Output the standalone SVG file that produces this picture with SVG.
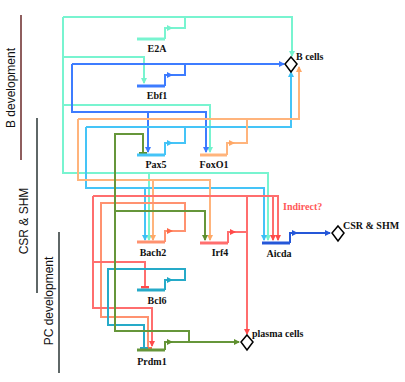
<svg xmlns="http://www.w3.org/2000/svg" width="405" height="382" viewBox="0 0 405 382">
<style>
.l{fill:none;stroke-width:2;stroke-linejoin:miter}
.bar{fill:none;stroke-width:3}
.g{font-family:"Liberation Serif",serif;font-weight:bold;font-size:10px;fill:#111;text-anchor:middle}
.o{font-family:"Liberation Serif",serif;font-weight:bold;font-size:10px;fill:#111}
.side{font-family:"Liberation Sans",Arial,sans-serif;font-size:12px;fill:#111;text-anchor:middle}
.dia{fill:#fff;stroke:#000;stroke-width:1.5}
.cA{stroke:#78f4d0}.cB{stroke:#3d7cff}.cP{stroke:#45c4f7}.cF{stroke:#ffb47c}
.cH{stroke:#ff9270}.cI{stroke:#ff6e6e}.cD{stroke:#2557d8}.cL{stroke:#26aac8}.cM{stroke:#66963a}
</style>
<defs>
<marker id="aA" viewBox="0 0 6 6" refX="5" refY="3" markerWidth="6" markerHeight="6" markerUnits="userSpaceOnUse" orient="auto"><path d="M0,0L6,3L0,6z" fill="#74f2cc"/></marker>
<marker id="aB" viewBox="0 0 6 6" refX="5" refY="3" markerWidth="6" markerHeight="6" markerUnits="userSpaceOnUse" orient="auto"><path d="M0,0L6,3L0,6z" fill="#3a78ff"/></marker>
<marker id="aP" viewBox="0 0 6 6" refX="5" refY="3" markerWidth="6" markerHeight="6" markerUnits="userSpaceOnUse" orient="auto"><path d="M0,0L6,3L0,6z" fill="#3cc0f5"/></marker>
<marker id="aF" viewBox="0 0 6 6" refX="5" refY="3" markerWidth="6" markerHeight="6" markerUnits="userSpaceOnUse" orient="auto"><path d="M0,0L6,3L0,6z" fill="#ffa866"/></marker>
<marker id="aH" viewBox="0 0 6 6" refX="5" refY="3" markerWidth="6" markerHeight="6" markerUnits="userSpaceOnUse" orient="auto"><path d="M0,0L6,3L0,6z" fill="#ff6a4a"/></marker>
<marker id="aI" viewBox="0 0 6 6" refX="5" refY="3" markerWidth="6" markerHeight="6" markerUnits="userSpaceOnUse" orient="auto"><path d="M0,0L6,3L0,6z" fill="#ff4a4a"/></marker>
<marker id="aD" viewBox="0 0 6 6" refX="5" refY="3" markerWidth="6" markerHeight="6" markerUnits="userSpaceOnUse" orient="auto"><path d="M0,0L6,3L0,6z" fill="#2557d8"/></marker>
<marker id="aL" viewBox="0 0 6 6" refX="5" refY="3" markerWidth="6" markerHeight="6" markerUnits="userSpaceOnUse" orient="auto"><path d="M0,0L6,3L0,6z" fill="#1fa8c6"/></marker>
<marker id="aM" viewBox="0 0 6 6" refX="5" refY="3" markerWidth="6" markerHeight="6" markerUnits="userSpaceOnUse" orient="auto"><path d="M0,0L6,3L0,6z" fill="#5e8f2e"/></marker>
<marker id="tH" viewBox="0 0 3 8" refX="1.5" refY="4" markerWidth="3" markerHeight="8" markerUnits="userSpaceOnUse" orient="auto"><rect width="3" height="8" fill="#ff6a4a"/></marker>
<marker id="tI" viewBox="0 0 3 8" refX="1.5" refY="4" markerWidth="3" markerHeight="8" markerUnits="userSpaceOnUse" orient="auto"><rect width="3" height="8" fill="#ff4a4a"/></marker>
<marker id="tL" viewBox="0 0 3 8" refX="1.5" refY="4" markerWidth="3" markerHeight="8" markerUnits="userSpaceOnUse" orient="auto"><rect width="3" height="8" fill="#1fa8c6"/></marker>
<marker id="tM" viewBox="0 0 3 8" refX="1.5" refY="4" markerWidth="3" markerHeight="8" markerUnits="userSpaceOnUse" orient="auto"><rect width="3" height="8" fill="#5e8f2e"/></marker>
</defs>
<rect width="405" height="382" fill="#fff"/>

<g id="stages">
<line x1="21" y1="15" x2="21" y2="160" stroke="#6a2828" stroke-width="1.5"/>
<text class="side" transform="translate(15,88) rotate(-90)">B development</text>
<line x1="37" y1="118" x2="37" y2="293" stroke="#2a3535" stroke-width="1.5"/>
<text class="side" transform="translate(28,221) rotate(-90)">CSR &amp; SHM</text>
<line x1="59" y1="232" x2="59" y2="373" stroke="#2a3535" stroke-width="1.5"/>
<text class="side" transform="translate(53,301) rotate(-90)">PC development</text>
</g>

<g id="connectors">
<!-- E2A -->
<path class="l cA" d="M172,28H185V17"/>
<path class="l cA" d="M63,17H292V56" marker-end="url(#aA)"/>
<path class="l cA" d="M63,17V173H268V240" marker-end="url(#aA)"/>
<path class="l cA" d="M63,57H144V83" marker-end="url(#aA)"/>
<path class="l cA" d="M63,105H210V152" marker-end="url(#aA)"/>
<path class="l cA" d="M149,173V240" marker-end="url(#aA)"/>
<!-- Ebf1 -->
<path class="l cB" d="M172,75H185V64"/>
<path class="l cB" d="M72,64H284" marker-end="url(#aB)"/>
<path class="l cB" d="M72,64V112H206V152" marker-end="url(#aB)"/>
<path class="l cB" d="M148,112V152" marker-end="url(#aB)"/>
<!-- Pax5 -->
<path class="l cP" d="M172,143H185V127"/>
<path class="l cP" d="M86,127H291V72" marker-end="url(#aP)"/>
<path class="l cP" d="M86,127V188H264V240" marker-end="url(#aP)"/>
<path class="l cP" d="M145,188V240" marker-end="url(#aP)"/>
<!-- FoxO1 -->
<path class="l cF" d="M234,143H247V119"/>
<path class="l cF" d="M78,119H299V67" marker-end="url(#aF)"/>
<path class="l cF" d="M78,119V180H210V240" marker-end="url(#aF)"/>
<path class="l cF" d="M153,180V240" marker-end="url(#aF)"/>
<!-- Bach2 -->
<path class="l cH" d="M172,231H185V203H101V317H148V348" marker-end="url(#tH)"/>
<!-- Irf4 -->
<path class="l cI" d="M235,232H247"/>
<path class="l cI" d="M247,196V334" marker-end="url(#aI)"/>
<path class="l cI" d="M93,196H278V240" marker-end="url(#aI)"/>
<path class="l cI" d="M273,196V240" marker-end="url(#aI)"/>
<path class="l cI" d="M93,196V308H152V346" marker-end="url(#aI)"/>
<path class="l cI" d="M93,262H145V287" marker-end="url(#tI)"/>
<!-- Aicda -->
<path class="l cD" d="M297,233H330" marker-end="url(#aD)"/>
<!-- Bcl6 -->
<path class="l cL" d="M172,280H185V269H108V325H144V348" marker-end="url(#tL)"/>
<!-- Prdm1 -->
<path class="l cM" d="M172,342H239" marker-end="url(#aM)"/>
<path class="l cM" d="M189,342V331H115V134H143V153" marker-end="url(#tM)"/>
<path class="l cM" d="M115,211H205V240" marker-end="url(#aM)"/>
<text x="283" y="210" font-family="Liberation Serif,serif" font-weight="bold" font-size="10" fill="#ff5858">Indirect?</text>
</g>

<g id="E2A">
<path class="bar cA" d="M137,39H165"/>
<path class="l cA" d="M165,39V28H172" marker-end="url(#aA)"/>
<text class="g" x="157" y="52">E2A</text>
</g>
<g id="Ebf1">
<path class="bar cB" d="M137,86H165"/>
<path class="l cB" d="M165,86V75H172" marker-end="url(#aB)"/>
<text class="g" x="157" y="99">Ebf1</text>
</g>
<g id="Pax5">
<path class="bar cP" d="M137,155H165"/>
<path class="l cP" d="M165,155V143H172" marker-end="url(#aP)"/>
<text class="g" x="156" y="168">Pax5</text>
</g>
<g id="FoxO1">
<path class="bar cF" d="M200,155H227"/>
<path class="l cF" d="M227,155V143H234" marker-end="url(#aF)"/>
<text class="g" x="214" y="168">FoxO1</text>
</g>
<g id="Bach2">
<path class="bar cH" d="M137,242H165"/>
<path class="l cH" d="M165,242V231H172" marker-end="url(#aH)"/>
<text class="g" x="153" y="256">Bach2</text>
</g>
<g id="Irf4">
<path class="bar cI" d="M200,243H228"/>
<path class="l cI" d="M228,243V232H235" marker-end="url(#aI)"/>
<text class="g" x="220" y="256">Irf4</text>
</g>
<g id="Aicda">
<path class="bar cD" d="M262,243H290"/>
<path class="l cD" d="M290,243V233H297" marker-end="url(#aD)"/>
<text class="g" x="279" y="257">Aicda</text>
</g>
<g id="Bcl6">
<path class="bar cL" d="M137,290H165"/>
<path class="l cL" d="M165,290V280H172" marker-end="url(#aL)"/>
<text class="g" x="157" y="304">Bcl6</text>
</g>
<g id="Prdm1">
<path class="bar cM" d="M137,350H165"/>
<path class="l cM" d="M165,350V342H172" marker-end="url(#aM)"/>
<text class="g" x="152" y="365">Prdm1</text>
</g>
<g id="Bcells">
<path class="dia" d="M291,57L297,64L291,72L285,64Z"/>
<text class="o" x="296" y="60">B cells</text>
</g>
<g id="CSRSHM">
<path class="dia" d="M338,226L344,233L338,241L332,233Z"/>
<text class="o" x="343" y="229">CSR &amp; SHM</text>
</g>
<g id="plasmacells">
<path class="dia" d="M247,335L253,342L247,350L241,342Z"/>
<text class="o" x="252" y="337">plasma cells</text>
</g>
</svg>
